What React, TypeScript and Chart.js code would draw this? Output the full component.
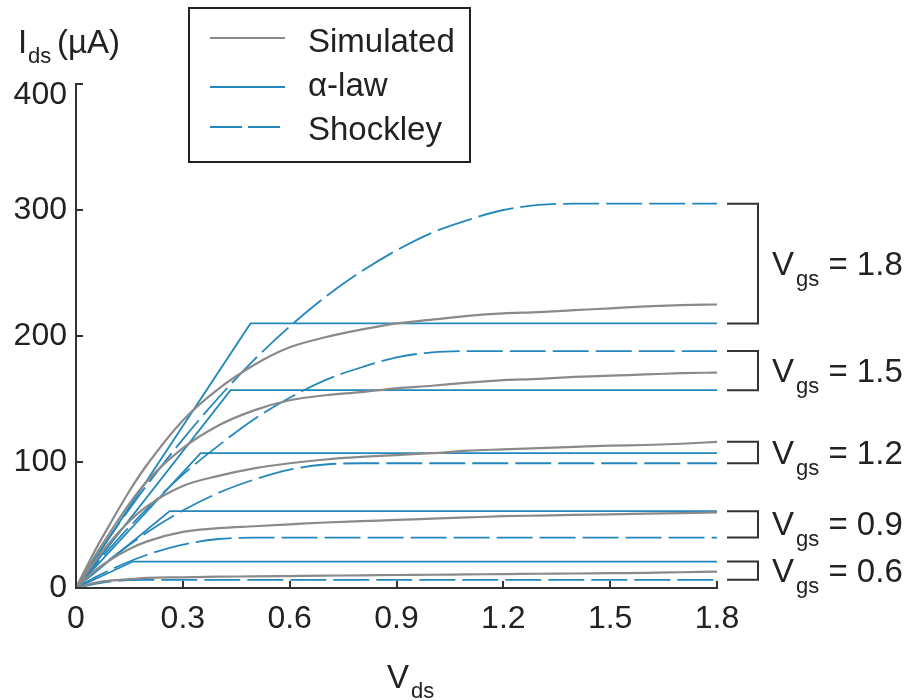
import React, { useEffect, useRef } from "react";
import { Chart, registerables } from "chart.js";

Chart.register(...registerables);

// ---- data ----
const VDS = [0, 0.05, 0.1, 0.15, 0.2, 0.3, 0.4, 0.5, 0.6, 0.7, 0.8, 0.9, 1.0, 1.1, 1.2, 1.3, 1.4, 1.5, 1.6, 1.7, 1.8];
const VGS_LABELS = ["1.8", "1.5", "1.2", "0.9", "0.6"];

const SIM_18 = [0, 28, 53, 77, 98, 133, 158, 177, 191, 199, 205, 210, 213, 216, 218, 219, 220.5, 222, 223.5, 224.5, 225];
const SIM_15 = [0, 24, 46, 67, 85, 111, 129, 141, 149, 153, 155.5, 158.5, 160.5, 163, 165, 166, 167.5, 168.5, 169.5, 170.5, 171];
const SIM_12 = [0, 20, 38, 53, 65, 81, 89, 95, 99, 102, 104, 105.5, 107, 109, 110, 111, 112, 113, 113.5, 114.5, 116];
const SIM_09 = [0, 13, 23, 31, 37, 44.5, 47.5, 49, 50.5, 52, 53, 54, 55, 56, 57, 57.5, 58, 58.5, 59, 59.5, 60];
const SIM_06 = [0, 4, 6, 7, 8, 8.5, 9, 9.2, 9.5, 9.8, 10, 10.3, 10.5, 10.8, 11, 11.3, 11.5, 11.8, 12, 12.5, 13];

const SHOCK_18 = [0, 21.7, 42.6, 62.7, 82, 118, 151, 181, 207.5, 231, 251, 268, 282, 292, 300, 304, 305, 305, 305, 305, 305];
const SHOCK_15 = [0, 17, 33, 48.6, 63, 90, 113, 134, 151, 165, 175, 183, 187, 188, 188, 188, 188, 188, 188, 188, 188];
const SHOCK_12 = [0, 12.3, 23.8, 34.4, 44.3, 61.5, 75.5, 86, 94, 98, 99, 99, 99, 99, 99, 99, 99, 99, 99, 99, 99];
const SHOCK_09 = [0, 7.9, 14.9, 21, 26.4, 34.4, 38.9, 40, 40, 40, 40, 40, 40, 40, 40, 40, 40, 40, 40, 40, 40];
const SHOCK_06 = [0, 3.1, 5.2, 6.3, 6.5, 6.5, 6.5, 6.5, 6.5, 6.5, 6.5, 6.5, 6.5, 6.5, 6.5, 6.5, 6.5, 6.5, 6.5, 6.5, 6.5];

const ALPHA_KNEE = [0.49, 0.434, 0.35, 0.263, 0.16];
const ALPHA_SAT = [210, 157, 107, 61, 21];

const X_TICKS = [0, 0.3, 0.6, 0.9, 1.2, 1.5, 1.8];
const Y_TICKS = [0, 100, 200, 300, 400];

const SIM = [SIM_18, SIM_15, SIM_12, SIM_09, SIM_06];
const SHOCK = [SHOCK_18, SHOCK_15, SHOCK_12, SHOCK_09, SHOCK_06];

// ---- styles ----
const FONT = '"Liberation Sans", Arial, Helvetica, sans-serif';
const TEXT = "#222222";
const AXIS = "#333333";
const GRAY = "#8a8a8a";
const BLUE = "#2387bb";
const DASH = [36, 7];

const toPts = (ys: number[]) => VDS.map((x, i) => ({ x, y: ys[i] }));
const last = (a: number[]) => a[a.length - 1];

const overlay = {
  id: "overlay",
  afterDraw(chart: any) {
    const { ctx } = chart;
    const x = chart.scales.x;
    const y = chart.scales.y;
    ctx.save();

    // inward tick marks
    ctx.strokeStyle = AXIS;
    ctx.lineWidth = 2;
    ctx.setLineDash([]);
    X_TICKS.forEach((v) => {
      const px = Math.round(x.getPixelForValue(v));
      ctx.beginPath();
      ctx.moveTo(px, y.bottom);
      ctx.lineTo(px, y.bottom - 7);
      ctx.stroke();
    });
    Y_TICKS.forEach((v) => {
      const py = Math.round(y.getPixelForValue(v));
      ctx.beginPath();
      ctx.moveTo(x.left, py);
      ctx.lineTo(x.left + 7, py);
      ctx.stroke();
    });

    // y tick labels (top label sits slightly lower, as in the reference)
    ctx.fillStyle = TEXT;
    ctx.font = `32px ${FONT}`;
    ctx.textAlign = "right";
    ctx.textBaseline = "middle";
    Y_TICKS.forEach((v, i) => {
      const py = y.getPixelForValue(v) + (i === Y_TICKS.length - 1 ? 11 : 0);
      ctx.fillText(String(v), x.left - 9, py);
    });

    // brackets + labels
    ctx.fillStyle = TEXT;
    ctx.textBaseline = "alphabetic";
    ctx.textAlign = "left";
    VGS_LABELS.forEach((lab, i) => {
      const ends = [last(SIM[i]), last(SHOCK[i]), ALPHA_SAT[i]];
      const top = y.getPixelForValue(Math.max(...ends));
      const bot = y.getPixelForValue(Math.min(...ends));
      const l = x.right + 10;
      const r = x.right + 41;
      ctx.strokeStyle = AXIS;
      ctx.lineWidth = 2;
      ctx.beginPath();
      ctx.moveTo(l, top);
      ctx.lineTo(r, top);
      ctx.lineTo(r, bot);
      ctx.lineTo(l, bot);
      ctx.stroke();
      const mid = (top + bot) / 2;
      const base = mid + 11;
      const tx = x.right + 55;
      ctx.font = `33px ${FONT}`;
      ctx.fillText("V", tx, base);
      const vw = ctx.measureText("V").width;
      ctx.font = `22px ${FONT}`;
      ctx.fillText("gs", tx + vw + 2, base + 11);
      const gw = ctx.measureText("gs").width;
      ctx.font = `33px ${FONT}`;
      ctx.fillText(" = " + lab, tx + vw + 2 + gw, base);
    });

    // axis titles
    ctx.font = `33px ${FONT}`;
    ctx.fillText("I", 18, 53);
    ctx.font = `22px ${FONT}`;
    ctx.fillText("ds", 28, 63);
    ctx.font = `33px ${FONT}`;
    ctx.fillText("(\u00b5A)", 57, 53);

    ctx.font = `33px ${FONT}`;
    ctx.fillText("V", 387, 688);
    ctx.font = `22px ${FONT}`;
    ctx.fillText("ds", 411, 698);

    // legend box
    ctx.strokeStyle = "#222";
    ctx.lineWidth = 2;
    ctx.strokeRect(189, 8, 281, 154);
    const rows = [
      { label: "Simulated", color: GRAY, dash: [] as number[], w: 2.2, ly: 38, ty: 52 },
      { label: "\u03b1-law", color: BLUE, dash: [] as number[], w: 1.8, ly: 87, ty: 96 },
      { label: "Shockley", color: BLUE, dash: [32, 6], w: 1.8, ly: 127, ty: 140 },
    ];
    rows.forEach((r) => {
      ctx.strokeStyle = r.color;
      ctx.lineWidth = r.w;
      ctx.setLineDash(r.dash);
      ctx.beginPath();
      ctx.moveTo(210, r.ly);
      ctx.lineTo(285, r.ly);
      ctx.stroke();
      ctx.setLineDash([]);
      ctx.fillStyle = TEXT;
      ctx.font = `33px ${FONT}`;
      ctx.fillText(r.label, 308, r.ty);
    });

    ctx.restore();
  },
};

export default function App() {
  const ref = useRef<HTMLCanvasElement | null>(null);

  useEffect(() => {
    if (!ref.current) return;
    const datasets: any[] = [];
    SIM.forEach((ys, i) =>
      datasets.push({
        label: "Simulated " + VGS_LABELS[i],
        data: toPts(ys),
        borderColor: GRAY,
        borderWidth: 2.2,
        pointRadius: 0,
        cubicInterpolationMode: "monotone",
        fill: false,
      })
    );
    ALPHA_KNEE.forEach((k, i) =>
      datasets.push({
        label: "alpha " + VGS_LABELS[i],
        data: [
          { x: 0, y: 0 },
          { x: k, y: ALPHA_SAT[i] },
          { x: VDS[VDS.length - 1], y: ALPHA_SAT[i] },
        ],
        borderColor: BLUE,
        borderWidth: 1.8,
        pointRadius: 0,
        tension: 0,
        fill: false,
      })
    );
    SHOCK.forEach((ys, i) =>
      datasets.push({
        label: "Shockley " + VGS_LABELS[i],
        data: toPts(ys),
        borderColor: BLUE,
        borderWidth: 1.8,
        borderDash: DASH,
        pointRadius: 0,
        cubicInterpolationMode: "monotone",
        fill: false,
      })
    );

    const chart = new Chart(ref.current, {
      type: "line",
      data: { datasets },
      options: {
        animation: false,
        responsive: false,
        layout: { padding: { left: 0, right: 192, top: 84, bottom: 0 } },
        plugins: { legend: { display: false }, tooltip: { enabled: false } },
        scales: {
          x: {
            type: "linear",
            min: 0,
            max: 1.8,
            grid: { display: false, drawTicks: false },
            border: { display: true, color: AXIS, width: 2 },
            ticks: {
              stepSize: 0.3,
              padding: 12,
              color: TEXT,
              font: { family: FONT, size: 32 },
              maxRotation: 0,
              callback: (v: any) => String(Number(Number(v).toFixed(1))),
            },
            afterFit: (s: any) => {
              s.height = 112;
            },
          },
          y: {
            type: "linear",
            min: 0,
            max: 400,
            grid: { display: false, drawTicks: false },
            border: { display: true, color: AXIS, width: 2 },
            ticks: {
              stepSize: 100,
              display: false,
            },
            afterFit: (s: any) => {
              s.width = 76;
            },
          },
        },
      },
      plugins: [overlay],
    });
    return () => chart.destroy();
  }, []);

  return (
    <canvas
      ref={ref}
      width={909}
      height={700}
      style={{ position: "absolute", left: 0, top: 0, width: 909, height: 700 }}
    />
  );
}
